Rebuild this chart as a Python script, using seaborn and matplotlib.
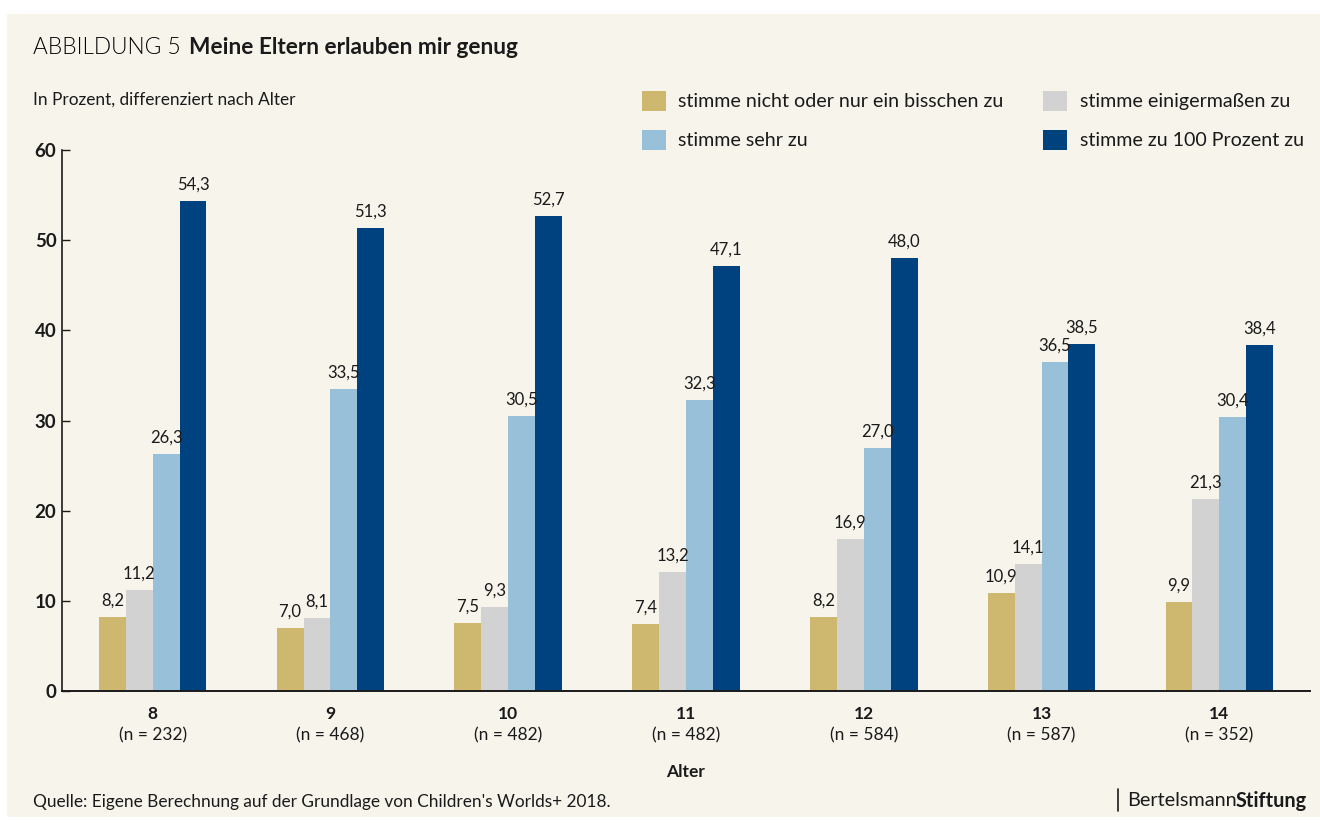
import numpy as np
import pandas as pd
import seaborn as sns
import matplotlib.pyplot as plt
from matplotlib.transforms import blended_transform_factory

# data
ages = ['8', '9', '10', '11', '12', '13', '14']
sample_sizes = ['(n = 232)', '(n = 468)', '(n = 482)', '(n = 482)', '(n = 584)', '(n = 587)', '(n = 352)']
categories = ['stimme nicht oder nur ein bisschen zu', 'stimme einigermaßen zu',
              'stimme sehr zu', 'stimme zu 100 Prozent zu']
nicht = [8.2, 7.0, 7.5, 7.4, 8.2, 10.9, 9.9]
einigermassen = [11.2, 8.1, 9.3, 13.2, 16.9, 14.1, 21.3]
sehr = [26.3, 33.5, 30.5, 32.3, 27.0, 36.5, 30.4]
hundert = [54.3, 51.3, 52.7, 47.1, 48.0, 38.5, 38.4]
y_ticks = [0, 10, 20, 30, 40, 50, 60]

colors = ['#CEB86F', '#D1D2D1', '#98C1D9', '#00427F']
bg = '#F7F4EC'
ink = '#1a1a1a'

rows = []
for cat, vals in zip(categories, [nicht, einigermassen, sehr, hundert]):
    for age, v in zip(ages, vals):
        rows.append({'Alter': age, 'Kategorie': cat, 'Wert': v})
df = pd.DataFrame(rows)

sns.set_theme(style='white')
plt.rcParams['font.family'] = ['Lato', 'DejaVu Sans']

fig = plt.figure(figsize=(13.2, 8.23), dpi=100)
fig.patch.set_facecolor('white')
# beige panel behind everything
fig.patches.append(plt.Rectangle((7 / 1320, 6 / 823), 1 - 7 / 1320, 1 - 20 / 823,
                                 transform=fig.transFigure, facecolor=bg, edgecolor='none', zorder=-5))

ax = fig.add_axes([62 / 1320, 1 - 691 / 823, (1310 - 62) / 1320, (691 - 150) / 823])
ax.set_zorder(2)
ax.patch.set_alpha(0)

sns.barplot(data=df, x='Alter', y='Wert', hue='Kategorie', order=ages, hue_order=categories,
            palette=colors, width=0.605, gap=0, saturation=1, errorbar=None,
            linewidth=0, edgecolor='none', ax=ax)

for cont in ax.containers:
    ax.bar_label(cont, labels=[f'{v:.1f}'.replace('.', ',') for v in cont.datavalues],
                 padding=6, fontsize=12, color=ink)

ax.set_ylim(0, 60)
ax.set_xlim(-0.51, 6.51)
ax.set_yticks(y_ticks)
ax.set_yticklabels([str(t) for t in y_ticks], fontsize=13.5, fontweight='bold', color=ink)
ax.tick_params(axis='y', direction='in', length=6, width=1, color=ink, left=True, pad=4)
ax.tick_params(axis='x', length=0, pad=11)
ax.set_xticks(range(len(ages)))
ax.set_xticklabels(ages, fontsize=12.5, fontweight='bold', color=ink)

trans = blended_transform_factory(ax.transData, ax.transAxes)
for i, n in enumerate(sample_sizes):
    ax.text(i, -0.082, n, transform=trans, ha='center', va='center', fontsize=12.5, color=ink)

ax.set_xlabel('Alter', fontsize=12.5, fontweight='bold', color=ink, labelpad=30)
ax.set_ylabel('')

for s in ['top', 'right']:
    ax.spines[s].set_visible(False)
ax.spines['left'].set_color(ink)
ax.spines['bottom'].set_color(ink)
ax.spines['left'].set_linewidth(1.2)
ax.spines['bottom'].set_linewidth(1.4)

# legend: row-wise order
handles, labels = ax.get_legend_handles_labels()
order = [0, 2, 1, 3]
leg = ax.legend([handles[i] for i in order], [labels[i] for i in order], ncol=2,
                loc='upper left', bbox_to_anchor=(624 / 1320, 1 - 73 / 823), bbox_transform=fig.transFigure,
                frameon=False, fontsize=14.1, handlelength=1.22, handleheight=1.22,
                handletextpad=0.66, columnspacing=2.0, labelspacing=0.95)
for t in leg.get_texts():
    t.set_color(ink)

# titles
fig.text(33 / 1320, 1 - 47 / 823, 'ABBILDUNG 5', fontsize=16.3, fontweight=300, color='black',
         va='center', ha='left')
fig.text(189 / 1320, 1 - 47 / 823, 'Meine Eltern erlauben mir genug', fontsize=16.3, fontweight='bold',
         color=ink, va='center', ha='left')
fig.text(33 / 1320, 1 - 100 / 823, 'In Prozent, differenziert nach Alter', fontsize=12.4,
         color=ink, va='center', ha='left')
fig.text(33 / 1320, 1 - 802 / 823, "Quelle: Eigene Berechnung auf der Grundlage von Children's Worlds+ 2018.",
         fontsize=12.4, color=ink, va='center', ha='left')

# logo
fig.add_artist(plt.Line2D([1118 / 1320, 1118 / 1320], [1 - 811 / 823, 1 - 789 / 823],
                          transform=fig.transFigure, color=ink, lw=1.2))
fig.text(1127 / 1320, 1 - 801 / 823, 'Bertelsmann', fontsize=14.3, color=ink, va='center', ha='left')
fig.text(1307 / 1320, 1 - 801 / 823, 'Stiftung', fontsize=14.3, fontweight='bold', color=ink,
         va='center', ha='right')

fig.savefig('out.png', dpi=100, facecolor='white')
